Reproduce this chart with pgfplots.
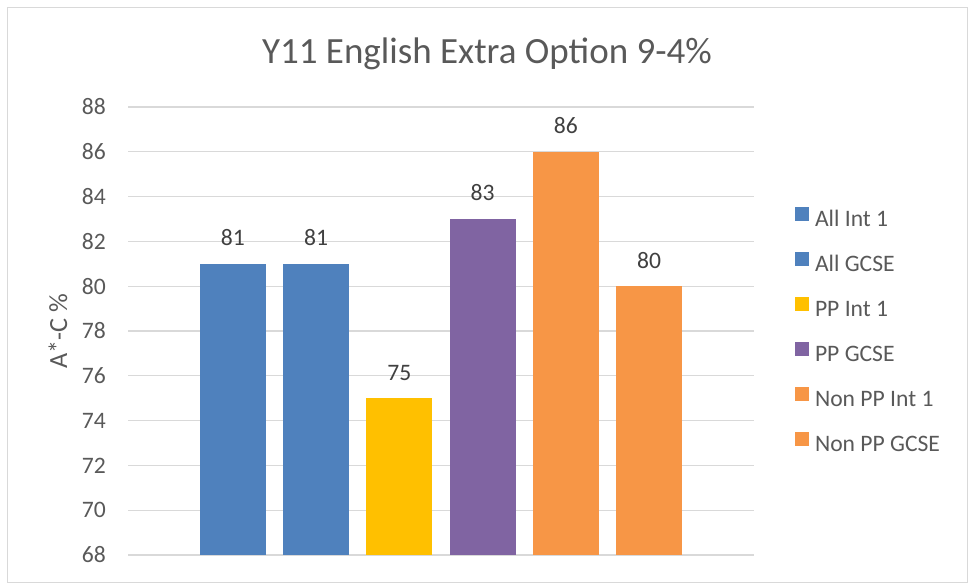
\documentclass[border=0pt]{standalone}
\usepackage{pgfplots}
\pgfplotsset{compat=1.18}
\usepackage{fontspec}
\setmainfont{Carlito}
\definecolor{txt}{HTML}{595959}
\definecolor{lbl}{HTML}{404040}
\definecolor{grd}{HTML}{D9D9D9}
\definecolor{cblue}{HTML}{4F81BD}
\definecolor{cyel}{HTML}{FFC000}
\definecolor{cpur}{HTML}{8064A2}
\definecolor{corg}{HTML}{F79646}
\newcommand{\nf}{\fontsize{23.6bp}{28bp}\selectfont}
\begin{document}
\begin{tikzpicture}[x=1bp,y=1bp]
\path[use as bounding box] (0,0) rectangle (968,584);
\draw[grd, line width=1bp] (7.5,1) rectangle (967,576);
\node[anchor=base, text=txt, font=\fontsize{37bp}{44bp}\selectfont, inner sep=0pt] at (487,520) {Y11 English Extra Option 9-4\%};
\begin{axis}[
  at={(128bp,29bp)}, anchor=south west,
  scale only axis, width=626bp, height=448bp,
  xmin=-1.26, xmax=6.26, ymin=68, ymax=88,
  ytick={68,70,...,88}, xtick=\empty,
  ymajorgrids, grid style={grd, line width=1.3bp},
  axis line style={draw=none}, major tick length=0pt,
  /pgf/number format/assume math mode=true,
  yticklabel style={text=txt, font=\nf, inner sep=0pt, xshift=-22bp},
  ylabel={A*-C \%},
  ylabel style={at={(axis description cs:-0.1118,0.5)}, anchor=center, text=txt, font=\fontsize{26.2bp}{31bp}\selectfont},
  ybar, bar width=66bp, bar shift=0pt,
  nodes near coords, 
  nodes near coords style={anchor=base, yshift=18bp, inner sep=0pt, text=lbl, font=\nf},
  legend style={at={(1,1)}, anchor=north west, xshift=41bp, yshift=-100bp,
    draw=none, fill=none, inner sep=0pt, outer sep=0pt,
    row sep=20bp, column sep=6bp,
    nodes={inner sep=0pt, text height=16bp, text depth=5bp, text=txt, font=\nf}},
  legend cell align=left,
  every axis plot/.append style={draw=none},
]
\addplot[fill=cblue, legend image code/.code={\fill[cblue] (0bp,0.5bp) rectangle (14bp,14.5bp);}] coordinates {(0,81)};
\addplot[fill=cblue, legend image code/.code={\fill[cblue] (0bp,0.5bp) rectangle (14bp,14.5bp);}] coordinates {(1,81)};
\addplot[fill=cyel, legend image code/.code={\fill[cyel] (0bp,0.5bp) rectangle (14bp,14.5bp);}] coordinates {(2,75)};
\addplot[fill=cpur, legend image code/.code={\fill[cpur] (0bp,0.5bp) rectangle (14bp,14.5bp);}] coordinates {(3,83)};
\addplot[fill=corg, legend image code/.code={\fill[corg] (0bp,0.5bp) rectangle (14bp,14.5bp);}] coordinates {(4,86)};
\addplot[fill=corg, legend image code/.code={\fill[corg] (0bp,0.5bp) rectangle (14bp,14.5bp);}] coordinates {(5,80)};
\legend{All Int 1, All GCSE, PP Int 1, PP GCSE, Non PP Int 1, Non PP GCSE}
\end{axis}
\end{tikzpicture}
\end{document}
